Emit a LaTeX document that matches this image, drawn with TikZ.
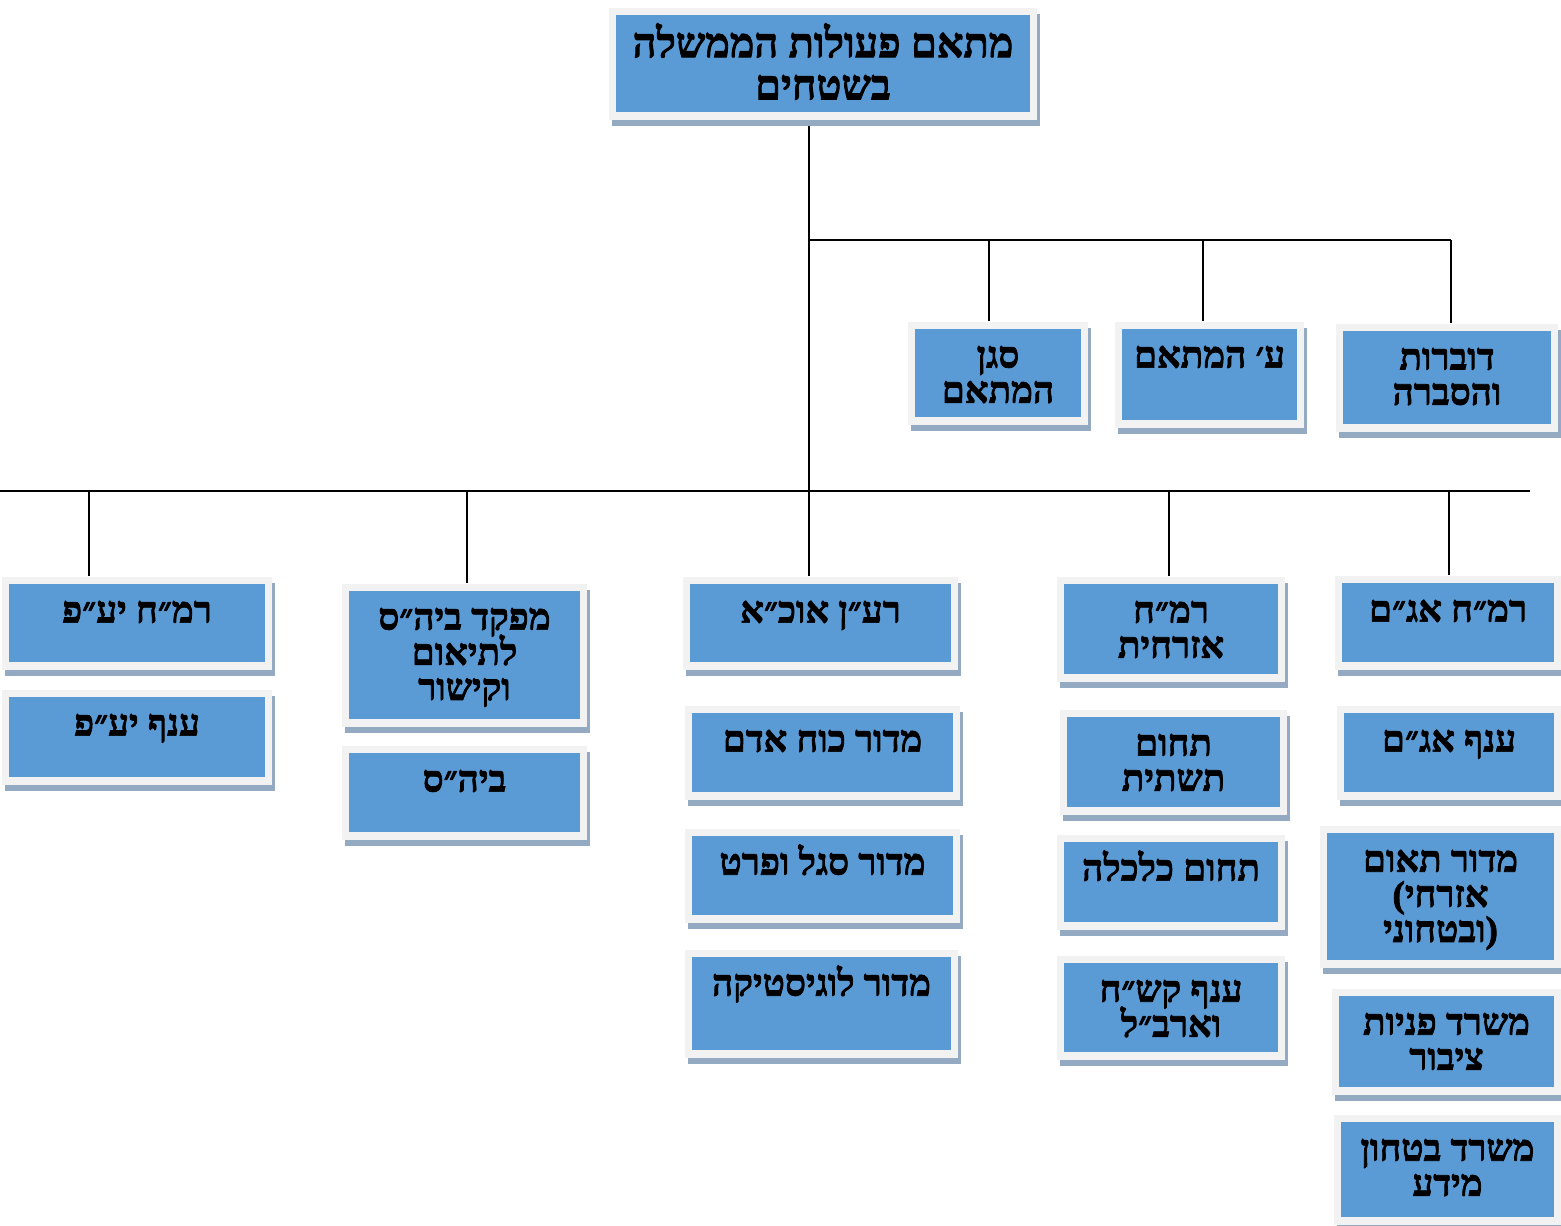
\documentclass[tikz,border=0pt]{standalone}
\usepackage{fontspec}
\setmainfont[Script=Hebrew, BoldFeatures={FakeBold=2}]{Liberation Serif}
\newfontfamily\latinfont[BoldFeatures={FakeBold=2}]{Liberation Serif}
\TeXXeTstate=1
\definecolor{boxblue}{HTML}{5B9BD5}
\definecolor{frameg}{HTML}{F2F2F2}
\definecolor{shadowc}{HTML}{93AAC2}
\pgfdeclarelayer{bg}
\pgfsetlayers{bg,main}
\tikzset{
  frm/.style={fill=frameg, draw=none, inner sep=0pt, rectangle},
  conn/.style={draw=black, line width=0.6pt},
  lbl/.style={anchor=north, inner sep=0pt, align=center, yshift=-0.8mm,
    font=\fontsize{10.5}{10}\selectfont\bfseries},
  toplbl/.style={anchor=north, inner sep=0pt, align=center, yshift=-0.7mm,
    font=\fontsize{11.8}{12}\selectfont\bfseries}
}
\newcommand\hb[1]{\beginR#1\endR}
\newcommand\lat[1]{{\latinfont\bfseries#1}}
% [label style]{name}{x1}{y1}{x2}{y2}{text}
\newcommand\orgbox[7][lbl]{%
  \fill[shadowc] (#3+3,#4+6) rectangle (#5+3,#6+6);
  \node[frm, minimum width={(#5-#3)*0.1mm}, minimum height={(#6-#4)*0.1mm}]
    (#2) at ({(#3+#5)/2},{(#4+#6)/2}) {};
  \fill[boxblue] (#3+7,#4+7) rectangle (#5-7,#6-8);
  \node[#1] (#2-t) at ({(#3+#5)/2},#4) {\rule{0pt}{\fontdimen6\font}#7};
}
\begin{document}
\begin{tikzpicture}[x=0.1mm,y=-0.1mm]
\lineskiplimit=-20pt\relax
\lineskip=0pt\relax
\useasboundingbox (0,0) rectangle (1561,1225);
% top
\orgbox[toplbl]{top}{609}{8}{1037}{120}{\hb{מתאם פעולות הממשלה}\\\hb{בשטחים}}
% second row
\orgbox{sgan}{908}{322}{1088}{425}{\hb{סגן}\\\hb{המתאם}}
\orgbox{ozer}{1115}{322}{1304}{428}{\hb{ע׳ המתאם}}
\orgbox{dover}{1336}{324}{1558}{432}{\hb{דוברות}\\\hb{והסברה}}
% column 1
\orgbox{ramahyf}{2}{577}{272}{670}{\hb{רמ״ח יע״פ}}
\orgbox{anafyf}{2}{690}{272}{785}{\hb{ענף יע״פ}}
% column 2
\orgbox{mefaked}{342}{584}{587}{727}{\hb{מפקד ביה״ס}\\\hb{לתיאום}\\\hb{וקישור}}
\orgbox{bihas}{342}{746}{587}{840}{\hb{ביה״ס}}
% column 3
\orgbox{raan}{683}{577}{958}{670}{\hb{רע״ן אוכ״א}}
\orgbox{koah}{685}{706}{960}{800}{\hb{מדור כוח אדם}}
\orgbox{segel}{685}{829}{960}{923}{\hb{מדור סגל ופרט}}
\orgbox{logist}{685}{950}{958}{1058}{\hb{מדור לוגיסטיקה}}
% column 4
\orgbox{ezrahit}{1057}{577}{1285}{682}{\hb{רמ״ח}\\\hb{אזרחית}}
\orgbox{tashtit}{1060}{710}{1287}{815}{\hb{תחום}\\\hb{תשתית}}
\orgbox{kalkala}{1057}{835}{1285}{930}{\hb{תחום כלכלה}}
\orgbox{kashah}{1057}{956}{1285}{1060}{\hb{ענף קש״ח}\\\hb{וארב״ל}}
% column 5
\orgbox{agam}{1335}{576}{1561}{670}{\hb{רמ״ח אג״ם}}
\orgbox{anafagam}{1337}{706}{1561}{800}{\hb{ענף אג״ם}}
\orgbox{teum}{1320}{826}{1561}{968}{\hb{מדור תאום}\\\lat{(}\hb{אזרחי}\\\hb{ובטחוני}\lat{)}}
\orgbox{pniyot}{1332}{989}{1561}{1095}{\hb{משרד פניות}\\\hb{ציבור}}
\orgbox{bitahon}{1334}{1115}{1561}{1225}{\hb{משרד בטחון}\\\hb{מידע}}
% connectors
\coordinate (b1L) at (809,240);
\coordinate (b1R) at (1451,240);
\coordinate (b2L) at (0,491);
\coordinate (b2R) at (1530,491);
\coordinate (u1) at (989,240);
\coordinate (u2) at (1203,240);
\coordinate (l1) at (89,491);
\coordinate (l2) at (467,491);
\coordinate (l4) at (1169,491);
\coordinate (l5) at (1449,491);
\begin{pgfonlayer}{bg}
\draw[conn] (top.south -| b1L) -- (raan.north -| b1L);
\draw[conn] (b1L) -- (b1R);
\draw[conn] (b2L) -- (b2R);
\draw[conn] (u1) -- (u1 |- sgan.north);
\draw[conn] (u2) -- (u2 |- ozer.north);
\draw[conn] (b1R) -- (b1R |- dover.north);
\draw[conn] (l1) -- (l1 |- ramahyf.north);
\draw[conn] (l2) -- (l2 |- mefaked.north);
\draw[conn] (l4) -- (l4 |- ezrahit.north);
\draw[conn] (l5) -- (l5 |- agam.north);
\end{pgfonlayer}
\end{tikzpicture}
\end{document}
